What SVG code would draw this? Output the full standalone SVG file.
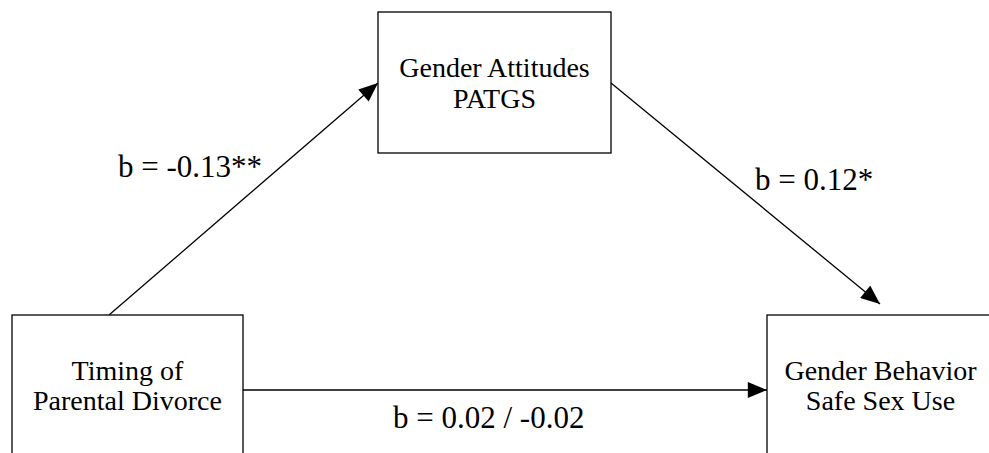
<svg xmlns="http://www.w3.org/2000/svg" width="989" height="453" viewBox="0 0 989 453">
<defs>
<style>
.box{fill:#fff;stroke:#000;stroke-width:1.3}
.node{font-family:"Liberation Serif","Times New Roman",serif;font-size:28px;fill:#000;text-anchor:middle}
.lbl{font-family:"Liberation Serif","Times New Roman",serif;font-size:31px;fill:#000}
.edge{stroke:#000;stroke-width:1.3;fill:none;marker-end:url(#ah)}
</style>
<marker id="ah" markerUnits="userSpaceOnUse" markerWidth="20" markerHeight="16" refX="18" refY="7.5" orient="auto" viewBox="0 0 18 15">
<path d="M0,0 L18,7.5 L0,15 Z" fill="#000"/>
</marker>
</defs>
<rect width="989" height="453" fill="#fff"/>
<g id="connectors">
<line class="edge" x1="109" y1="315" x2="378" y2="83"/>
<line class="edge" x1="611" y1="83" x2="880" y2="304"/>
<line class="edge" x1="243" y1="390" x2="767" y2="390"/>
</g>
<g id="node-attitudes">
<rect class="box" x="378" y="12" width="233" height="141"/>
<text class="node" x="494.5" y="77">Gender Attitudes</text>
<text class="node" x="494.5" y="108">PATGS</text>
</g>
<g id="node-timing">
<rect class="box" x="12" y="315" width="231" height="160"/>
<text class="node" x="127.5" y="380">Timing of</text>
<text class="node" x="127.5" y="410">Parental Divorce</text>
</g>
<g id="node-behavior">
<rect class="box" x="767" y="315" width="231" height="160"/>
<text class="node" x="880.5" y="380">Gender Behavior</text>
<text class="node" x="880.5" y="410">Safe Sex Use</text>
</g>
<g id="labels">
<text class="lbl" x="118" y="177">b = -0.13**</text>
<text class="lbl" x="755" y="190">b = 0.12*</text>
<text class="lbl" x="393" y="428">b = 0.02 / -0.02</text>
</g>
</svg>
